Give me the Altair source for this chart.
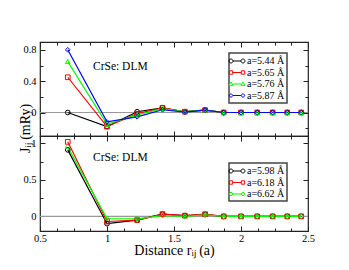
import altair as alt
import pandas as pd

FONT = "Liberation Serif"

# ---------------- data ----------------
dist = [0.7071, 1.0, 1.2247, 1.4142, 1.5811, 1.7321, 1.8708, 2.0, 2.1213, 2.2361, 2.3452, 2.4495]

top_series = ["a=5.44 Å", "a=5.65 Å", "a=5.76 Å", "a=5.87 Å"]
j_544 = [0.00, -0.18, 0.01, 0.06, 0.01, 0.03, 0.0, 0.0, 0.0, 0.0, 0.0, 0.0]
j_565 = [0.45, -0.18, -0.015, 0.06, 0.01, 0.03, 0.0, 0.0, 0.0, 0.0, 0.0, 0.0]
j_576 = [0.65, -0.15, -0.03, 0.05, 0.01, 0.03, 0.0, 0.0, 0.0, 0.0, 0.0, 0.0]
j_587 = [0.80, -0.12, -0.055, 0.035, 0.005, 0.03, 0.0, 0.0, 0.0, 0.0, 0.0, 0.0]

bot_series = ["a=5.98 Å", "a=6.18 Å", "a=6.62 Å"]
j_598 = [0.91, -0.10, -0.05, 0.03, 0.01, 0.025, 0.0, 0.0, 0.0, 0.0, 0.0, 0.0]
j_618 = [1.02, -0.07, -0.05, 0.03, 0.01, 0.03, 0.0, 0.0, 0.0, 0.0, 0.0, 0.0]
j_662 = [0.95, -0.03, -0.035, 0.01, 0.0, 0.02, 0.0, 0.0, 0.0, 0.0, 0.0, 0.0]

x_major = [0.5, 1.0, 1.5, 2.0, 2.5]
x_minor = [0.625, 0.75, 0.875, 1.125, 1.25, 1.375, 1.625, 1.75, 1.875, 2.125, 2.25, 2.375]
top_y_major = [0.0, 0.4, 0.8]
top_y_minor = [-0.2, 0.2, 0.6]
bot_y_major = [0.0, 0.5, 1.0]
bot_y_minor = [0.25, 0.75]

annotation = "CrSe: DLM"
x_title = "Distance rᵢⱼ (a)"
y_title = "Jᵢⱼ (mRy)"

# ---------------- styles ----------------
top_colors = ["#000000", "#ff0000", "#00ff00", "#0000ff"]
top_shapes = ["circle", "square", "triangle-up", "diamond"]
bot_colors = ["#000000", "#ff0000", "#00ff00"]
bot_shapes = ["circle", "square", "diamond"]


def legend_path(kind):
    c, r = 1.09, 0.36
    parts = [f"M{-c + r},0L{c - r},0"]
    for cx in (-c, c):
        if kind == "circle":
            parts.append(f"M{cx - r},0A{r} {r} 0 1 0 {cx + r},0A{r} {r} 0 1 0 {cx - r},0Z")
        elif kind == "square":
            s = r * 0.85
            parts.append(f"M{cx - s},{-s}L{cx + s},{-s}L{cx + s},{s}L{cx - s},{s}Z")
        elif kind == "triangle-up":
            parts.append(f"M{cx},{-r}L{cx + r},{r * 0.7}L{cx - r},{r * 0.7}Z")
        else:
            parts.append(f"M{cx},{-r}L{cx + r},0L{cx},{r}L{cx - r},0Z")
    return "".join(parts)


def make_df(series, values):
    rows = []
    for s, vals in zip(series, values):
        for r, j in zip(dist, vals):
            rows.append({"r": r, "J": j, "series": s})
    return pd.DataFrame(rows)


def axis(orient, values, size, labels=False, **kw):
    args = dict(orient=orient, values=values, tickSize=size, offset=-size,
                domain=False, grid=False, labels=labels, ticks=True,
                tickColor="#222222", tickWidth=1, labelFlush=False,
                labelFont=FONT, labelFontSize=10.5, labelColor="black",
                labelPadding=2, format="~g", title=None)
    args.update(kw)
    return alt.Axis(**args)


W = 268


def panel(df, series, colors, shapes, ydom, ymaj, ymin, height,
          legend_y, text_y, xlabels, ytitle):
    xs = alt.Scale(domain=[0.5, 2.5], nice=False, zero=False)
    ys = alt.Scale(domain=ydom, nice=False, zero=False)
    base = alt.Chart(df)

    zero = alt.Chart(pd.DataFrame({"J": [0.0]})).mark_rule(
        color="#999999", strokeWidth=1.2).encode(
        y=alt.Y("J:Q", scale=ys, axis=None))

    x_bottom_kw = {}
    if xlabels:
        x_bottom_kw = dict(title=x_title, titleFont=FONT, titleFontSize=14,
                           titleFontWeight="normal", titleColor="black",
                           titlePadding=0)
    y_left_kw = {}
    if ytitle:
        y_left_kw = dict(title=y_title, titleFont=FONT, titleFontSize=14,
                         titleFontWeight="normal", titleColor="black",
                         titleAngle=270, titleAlign="center",
                         titleBaseline="alphabetic", titleX=-15.5, titleY=86)

    line = base.mark_line(strokeWidth=1.2).encode(
        x=alt.X("r:Q", scale=xs, axis=axis("bottom", x_major, 5, labels=xlabels, **x_bottom_kw)),
        y=alt.Y("J:Q", scale=ys, axis=axis("left", ymaj, 5, labels=True, labelPadding=4, **y_left_kw)),
        color=alt.Color("series:N", scale=alt.Scale(domain=series, range=colors), legend=None),
    )
    pts = base.mark_point(filled=False, size=22, strokeWidth=1, opacity=1).encode(
        x=alt.X("r:Q", scale=xs, axis=axis("top", x_major, 5)),
        y=alt.Y("J:Q", scale=ys, axis=axis("right", ymaj, 5)),
        color=alt.Color("series:N", scale=alt.Scale(domain=series, range=colors), legend=None),
        shape=alt.Shape("series:N", scale=alt.Scale(domain=series, range=shapes), legend=None),
    )
    leg = alt.Legend(title=None, orient="none", legendX=189, legendY=legend_y,
                     symbolSize=121, labelOffset=4, rowPadding=0.5, padding=2)
    legend_layer = base.transform_filter("false").mark_point(filled=False, opacity=1).encode(
        x=alt.X("r:Q", scale=xs, axis=axis("bottom", x_minor, 3)),
        y=alt.Y("J:Q", scale=ys, axis=axis("left", ymin, 3)),
        stroke=alt.Stroke("series:N", scale=alt.Scale(domain=series, range=colors), legend=leg),
        shape=alt.Shape("series:N", scale=alt.Scale(domain=series, range=[legend_path(s) for s in shapes]), legend=leg),
    )
    minor2 = base.transform_filter("false").mark_point(opacity=0).encode(
        x=alt.X("r:Q", scale=xs, axis=axis("top", x_minor, 3)),
        y=alt.Y("J:Q", scale=ys, axis=axis("right", ymin, 3)),
    )
    txt = alt.Chart(pd.DataFrame({"t": [annotation]})).mark_text(
        font=FONT, fontSize=11.5, align="left", baseline="middle", color="black").encode(
        text="t:N", x=alt.value(53), y=alt.value(text_y))

    return alt.layer(zero, line, pts, legend_layer, minor2, txt).resolve_scale(
        shape="independent", stroke="independent").resolve_axis(
        x="independent", y="independent").properties(width=W, height=height)


top = panel(make_df(top_series, [j_544, j_565, j_576, j_587]), top_series, top_colors, top_shapes,
            [-0.3, 0.9], top_y_major, top_y_minor, 94, 11, 25, False, True)
bottom = panel(make_df(bot_series, [j_598, j_618, j_662]), bot_series, bot_colors, bot_shapes,
               [-0.2, 1.1], bot_y_major, bot_y_minor, 95, 27, 22, True, False)

chart = alt.vconcat(top, bottom, spacing=0, bounds="flush").resolve_scale(
    color="independent", stroke="independent", shape="independent").properties(
    padding={"left": 9, "top": 32, "right": 5, "bottom": 5}
).configure_view(stroke="#222222", strokeWidth=1.2).configure_legend(
    strokeColor="#444444", strokeWidth=1.5, fillColor="white",
    labelFont=FONT, labelFontSize=10, labelColor="black",
    symbolStrokeWidth=1, symbolOpacity=1)

chart.save("out.html", embed_options={"renderer": "svg", "actions": False})
